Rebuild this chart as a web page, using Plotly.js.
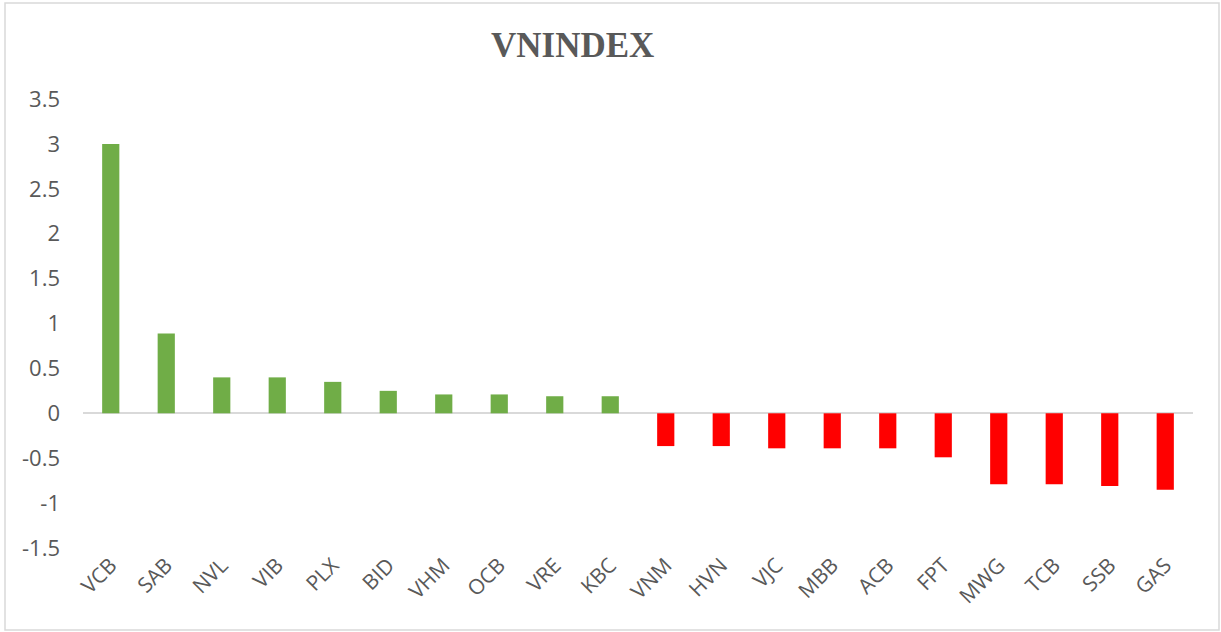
<!DOCTYPE html>
<html>
<head>
<meta charset="utf-8">
<script src="https://cdn.plot.ly/plotly-3.0.1.min.js"></script>
<style>html,body{margin:0;padding:0;background:#fff;}#chart{width:1221px;height:632px;}</style>
</head>
<body>
<div id="chart"></div>
<script>
const tickers = ["VCB","SAB","NVL","VIB","PLX","BID","VHM","OCB","VRE","KBC","VNM","HVN","VJC","MBB","ACB","FPT","MWG","TCB","SSB","GAS"];
const values = [3.0, 0.89, 0.40, 0.40, 0.35, 0.25, 0.21, 0.21, 0.19, 0.19, -0.365, -0.365, -0.39, -0.39, -0.39, -0.49, -0.79, -0.79, -0.81, -0.85];
const yTicks = [-1.5, -1, -0.5, 0, 0.5, 1, 1.5, 2, 2.5, 3, 3.5];
const yTickLabels = ["-1.5","-1","-0.5","0","0.5","1","1.5","2","2.5","3","3.5"];
const titleText = "VNINDEX";

const colors = values.map(v => v >= 0 ? "#70AD47" : "#FF0000");

const trace = {
  type: "bar",
  x: tickers,
  y: values,
  marker: {color: colors, line: {width: 0}},
  hoverinfo: "x+y"
};

const layout = {
  width: 1221,
  height: 632,
  paper_bgcolor: "#ffffff",
  plot_bgcolor: "#ffffff",
  margin: {l: 83, r: 28, t: 99, b: 84},
  bargap: 0.69,
  showlegend: false,
  title: {
    text: "<b>" + titleText + "</b>",
    font: {family: "Liberation Serif, Times New Roman, serif", size: 35, color: "#595959"},
    xref: "container", yref: "container",
    x: 0.469, y: 1 - 45/632, xanchor: "center", yanchor: "middle"
  },
  xaxis: {
    type: "category",
    tickangle: -45,
    showgrid: false,
    showline: false,
    zeroline: false,
    ticks: "",
    automargin: false,
    tickfont: {family: "Open Sans, sans-serif", size: 21, color: "#595959"}
  },
  yaxis: {
    range: [-1.5, 3.5],
    tickvals: yTicks,
    ticktext: yTickLabels,
    showgrid: false,
    showline: false,
    zeroline: true,
    zerolinecolor: "#d9d9d9",
    zerolinewidth: 2,
    ticks: "",
    automargin: false,
    ticklabelstandoff: 22,
    tickfont: {family: "Open Sans, sans-serif", size: 22, color: "#595959"}
  },
  shapes: [{
    type: "rect", xref: "paper", yref: "paper",
    x0: (5-83)/1110, x1: (1219-83)/1110,
    y0: (548-630)/449, y1: (548-3)/449,
    line: {color: "#d9d9d9", width: 1.5},
    fillcolor: "rgba(0,0,0,0)", layer: "below"
  }]
};

Plotly.newPlot("chart", [trace], layout, {displayModeBar: false, staticPlot: true});
</script>
</body>
</html>
